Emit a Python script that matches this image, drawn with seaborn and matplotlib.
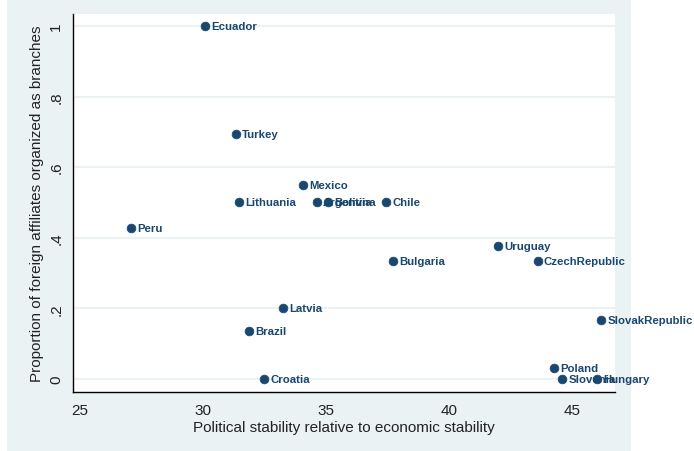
import matplotlib.pyplot as plt
import matplotlib.patches as patches
import pandas as pd
import seaborn as sns

# values
countries = ["Ecuador", "Turkey", "Mexico", "Lithuania", "Argentina", "Bolivia",
             "Chile", "Peru", "Uruguay", "Bulgaria", "CzechRepublic",
             "SlovakRepublic", "Latvia", "Brazil", "Croatia", "Poland",
             "Slovenia", "Hungary"]
stability = [30.08, 31.34, 34.07, 31.46, 34.63, 35.1,
             37.44, 27.07, 42.0, 37.72, 43.6,
             46.18, 33.25, 31.87, 32.48, 44.27,
             44.6, 46.0]
branch_share = [1.0, 0.694, 0.55, 0.5, 0.5, 0.5,
                0.5, 0.428, 0.377, 0.333, 0.333,
                0.167, 0.2, 0.136, 0.0, 0.031,
                0.0, 0.0]
xticks = [25, 30, 35, 40, 45]
yticks = [0, 0.2, 0.4, 0.6, 0.8, 1.0]
ytick_labels = ["0", ".2", ".4", ".6", ".8", "1"]

df = pd.DataFrame({"country": countries, "x": stability, "y": branch_share})

navy = "#1A476F"
bg = "#EAF2F3"

sns.set_style("white")
plt.rcParams["font.family"] = ["Liberation Sans", "DejaVu Sans"]

fig = plt.figure(figsize=(6.94, 4.52), dpi=100, facecolor="white")
# stata-style outer region, kept behind the axes
fig.patches.append(patches.Rectangle((7 / 694, 0), 624 / 694, 1,
                                     transform=fig.transFigure,
                                     facecolor=bg, edgecolor="none", zorder=-10))
ax = fig.add_axes([73 / 694, 59 / 452, 542 / 694, 378 / 452])
ax.set_facecolor("white")

for yv in yticks:
    ax.axhline(yv, color=bg, lw=1.5, zorder=0)

sns.scatterplot(data=df, x="x", y="y", ax=ax, color=navy, s=40,
                edgecolor=navy, linewidth=0.5, zorder=3)

for _, r in df.iterrows():
    ax.annotate(r["country"], (r["x"], r["y"]), xytext=(4.5, 0),
                textcoords="offset points", va="center", ha="left",
                fontsize=8.2, color=navy, fontweight="bold", zorder=4,
                annotation_clip=False)

ax.set_xlim(24.72, 46.75)
ax.set_ylim(-0.037, 1.034)
ax.set_xticks(xticks)
ax.set_yticks(yticks)
ax.set_yticklabels(ytick_labels, rotation=90, va="center")
ax.tick_params(axis="both", direction="out", length=5, width=1,
               color="black", labelsize=11, pad=3, labelcolor="#222222")
ax.tick_params(axis="y", pad=2)

for side in ["top", "right"]:
    ax.spines[side].set_visible(False)
for side in ["left", "bottom"]:
    ax.spines[side].set_color("black")
    ax.spines[side].set_linewidth(1)

ax.set_xlabel("Political stability relative to economic stability",
              fontsize=11, color="#222222", labelpad=2)
ax.set_ylabel("Proportion of foreign affiliates organized as branches",
              fontsize=11, color="#222222", labelpad=4)

fig.savefig("out.png", dpi=100, facecolor="white")
